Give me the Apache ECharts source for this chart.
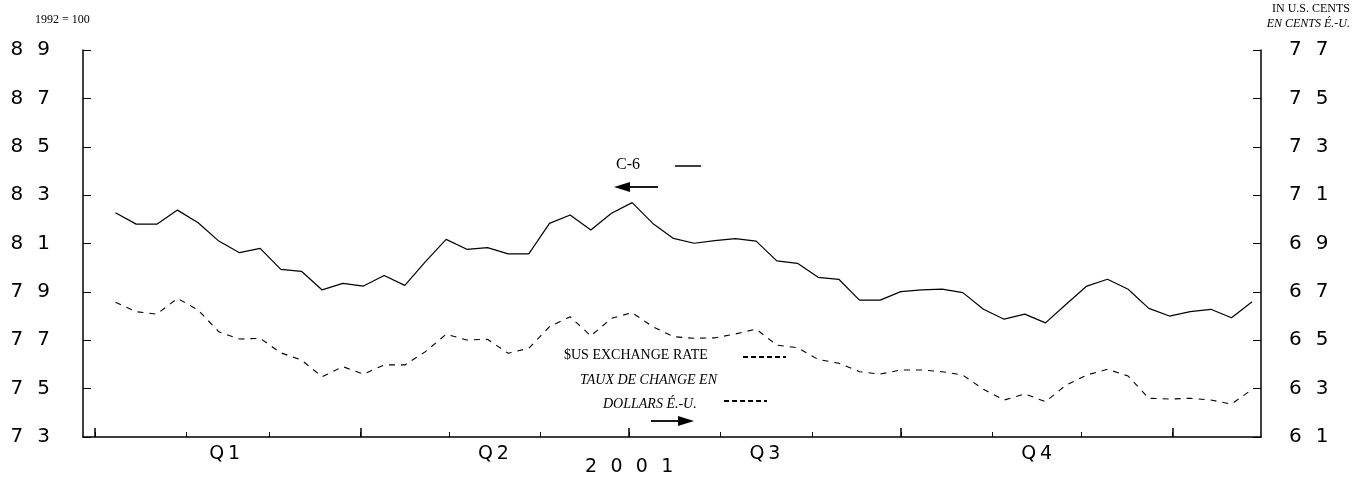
<!DOCTYPE html>
<html lang="en">
<head>
<meta charset="UTF-8">
<title>C-6 index and $US exchange rate, 2001</title>
<script src="https://cdn.jsdelivr.net/npm/echarts@6/dist/echarts.min.js"></script>
<style>
  html, body { margin: 0; padding: 0; background: #fff; }
  #chart { width: 1365px; height: 478px; }
</style>
</head>
<body>
<div id="chart"></div>
<script>
// weekly observations, as days since Jan 1 2001
const weekDays = [7, 14, 21, 28, 35, 42, 49, 56, 63, 70, 77, 84, 91, 98, 105, 112, 119, 126, 133, 140,
  147, 154, 161, 168, 175, 182, 189, 196, 203, 210, 217, 224, 231, 238, 245, 252, 259, 266, 273, 280,
  287, 294, 301, 308, 315, 322, 329, 336, 343, 350, 357, 364, 371, 378, 385, 392];

// C-6 index, 1992 = 100 (left axis)
const c6Index = [82.27, 81.80, 81.80, 82.38, 81.86, 81.10, 80.62, 80.80, 79.93, 79.85,
  79.08, 79.35, 79.24, 79.68, 79.27, 80.25, 81.17, 80.76, 80.83, 80.57,
  80.57, 81.83, 82.18, 81.56, 82.25, 82.69, 81.83, 81.21, 81.01, 81.12,
  81.20, 81.10, 80.28, 80.18, 79.60, 79.52, 78.66, 78.66, 79.01, 79.08,
  79.11, 78.97, 78.28, 77.87, 78.08, 77.72, 78.49, 79.24, 79.52, 79.11,
  78.32, 78.00, 78.18, 78.28, 77.93, 78.59];

// $US exchange rate in U.S. cents (right axis)
const usRate = [66.57, 66.18, 66.08, 66.73, 66.25, 65.35, 65.05, 65.08, 64.48, 64.18,
  63.49, 63.91, 63.60, 63.98, 63.98, 64.53, 65.25, 65.01, 65.04, 64.46,
  64.67, 65.56, 65.97, 65.18, 65.91, 66.14, 65.56, 65.15, 65.08, 65.10,
  65.26, 65.46, 64.80, 64.69, 64.21, 64.05, 63.70, 63.60, 63.77, 63.77,
  63.70, 63.56, 62.97, 62.53, 62.78, 62.46, 63.15, 63.56, 63.80, 63.52,
  62.60, 62.57, 62.60, 62.53, 62.36, 62.97];

const monthStarts = [0, 31, 59, 90, 120, 151, 181, 212, 243, 273, 304, 334, 365];
const quarterStarts = [0, 90, 181, 273, 365];
const quarterMids = [44, 135, 227, 319];
const quarterLabels = ['Q1', 'Q2', 'Q3', 'Q4'];
const yearLabel = '2001';

// the original uses a very wide face, so pad between characters
const wide = s => String(s).split('').join('\u2002\u2009');
const narrow = s => String(s).split('').join('\u2009');
const serif = 'Liberation Serif';
const sans = 'DejaVu Sans';

const chart = echarts.init(document.getElementById('chart'), null, { renderer: 'canvas' });

chart.setOption({
  animation: false,
  backgroundColor: '#fff',
  grid: { left: 83, right: 104, top: 50, bottom: 41, outerBoundsMode: 'none' },
  xAxis: [{
    type: 'value', min: -4, max: 395,
    axisLine: { show: true, onZero: false, lineStyle: { color: '#000', width: 1.5 } },
    axisTick: { show: true, inside: true, length: 5, customValues: monthStarts, lineStyle: { color: '#000' } },
    axisLabel: {
      show: true, customValues: quarterMids, margin: 8,
      fontFamily: sans, fontSize: 19, color: '#000',
      formatter: v => narrow(quarterLabels[quarterMids.indexOf(v)])
    },
    splitLine: { show: false }
  }, {
    type: 'value', min: -4, max: 395, position: 'bottom',
    axisLine: { show: false, onZero: false },
    axisTick: { show: true, inside: true, length: 9, customValues: quarterStarts, lineStyle: { color: '#000', width: 1.5 } },
    axisLabel: { show: false },
    splitLine: { show: false }
  }],
  yAxis: [{
    type: 'value', min: 73, max: 89, interval: 2, position: 'left',
    axisLine: { show: true, onZero: false, lineStyle: { color: '#000', width: 1.5 } },
    axisTick: { show: true, inside: true, length: 8, lineStyle: { color: '#000' } },
    axisLabel: { margin: 33, fontFamily: sans, fontSize: 20, color: '#000', formatter: wide },
    splitLine: { show: false }
  }, {
    type: 'value', min: 61, max: 77, interval: 2, position: 'right',
    axisLine: { show: true, onZero: false, lineStyle: { color: '#000', width: 1.5 } },
    axisTick: { show: true, inside: true, length: 8, lineStyle: { color: '#000' } },
    axisLabel: { margin: 28, fontFamily: sans, fontSize: 20, color: '#000', formatter: wide },
    splitLine: { show: false }
  }],
  series: [{
    name: 'C-6', type: 'line', xAxisIndex: 0, yAxisIndex: 0,
    data: weekDays.map((d, i) => [d, c6Index[i]]),
    showSymbol: false, symbol: 'none',
    lineStyle: { color: '#000', width: 1.2 }
  }, {
    name: '$US EXCHANGE RATE', type: 'line', xAxisIndex: 0, yAxisIndex: 1,
    data: weekDays.map((d, i) => [d, usRate[i]]),
    showSymbol: false, symbol: 'none',
    lineStyle: { color: '#000', width: 1.1, type: [6, 6] }
  }],
  graphic: [
    { type: 'text', left: 35, top: 14, style: { text: '1992 = 100', font: '12px ' + serif, fill: '#000' } },
    { type: 'text', right: 15, top: 3, style: { text: 'IN U.S. CENTS', font: '12px ' + serif, fill: '#000', align: 'right' } },
    { type: 'text', right: 15, top: 18, style: { text: 'EN CENTS É.-U.', font: 'italic 12px ' + serif, fill: '#000', align: 'right' } },
    { type: 'text', left: 585, top: 458, style: { text: wide(yearLabel), font: '19px ' + sans, fill: '#000' } },

    { type: 'text', left: 616, top: 157, style: { text: 'C-6', font: '16px ' + serif, fill: '#000' } },
    { type: 'line', shape: { x1: 675, y1: 166, x2: 701, y2: 166 }, style: { stroke: '#000', lineWidth: 1.5 } },
    { type: 'line', shape: { x1: 626, y1: 187, x2: 658, y2: 187 }, style: { stroke: '#000', lineWidth: 1.8 } },
    { type: 'polygon', shape: { points: [[614, 187], [630, 182], [630, 192]] }, style: { fill: '#000' } },

    { type: 'text', left: 564, top: 348, style: { text: '$US EXCHANGE RATE', font: '14px ' + serif, fill: '#000' } },
    { type: 'line', shape: { x1: 743, y1: 357, x2: 786, y2: 357 }, style: { stroke: '#000', lineWidth: 1.8, lineDash: [5, 3] } },
    { type: 'text', left: 580, top: 373, style: { text: 'TAUX DE CHANGE EN', font: 'italic 14px ' + serif, fill: '#000' } },
    { type: 'text', left: 603, top: 397, style: { text: 'DOLLARS É.-U.', font: 'italic 14px ' + serif, fill: '#000' } },
    { type: 'line', shape: { x1: 724, y1: 401, x2: 767, y2: 401 }, style: { stroke: '#000', lineWidth: 1.8, lineDash: [5, 3] } },
    { type: 'line', shape: { x1: 651, y1: 421, x2: 682, y2: 421 }, style: { stroke: '#000', lineWidth: 1.8 } },
    { type: 'polygon', shape: { points: [[694, 421], [678, 416], [678, 426]] }, style: { fill: '#000' } }
  ]
});
</script>
</body>
</html>
